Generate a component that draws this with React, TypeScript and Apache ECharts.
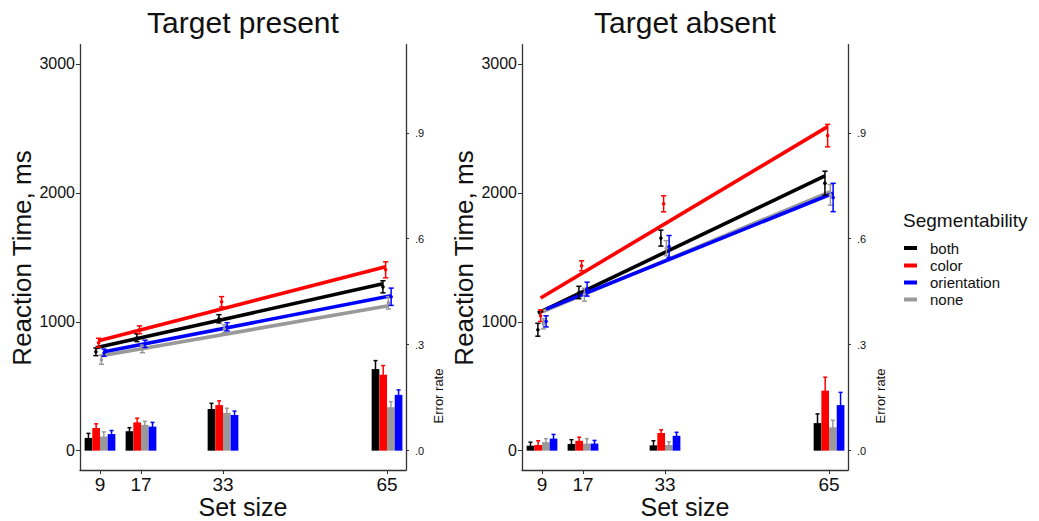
import { useEffect, useRef } from "react";
import * as echarts from "echarts";

// ---------- data ----------
const setSizes = [9, 17, 33, 65];
const conditionOrder = ["both", "color", "none", "orientation"]; // dodge / draw order
const legendOrder = ["both", "color", "orientation", "none"];
const conditionColors: Record<string, string> = {
  both: "#000000",
  color: "#FF0000",
  orientation: "#0000FF",
  none: "#999999",
};

const rtTicks = [0, 1000, 2000, 3000];
const rtTickLabels = ["0", "1000", "2000", "3000"];
const errTicks = [0, 0.3, 0.6, 0.9];
const errTickLabels = [".0", ".3", ".6", ".9"];

// Target present: mean RT (ms), SE, fitted line at 9 and 65
const presentRtBoth = [767, 876, 1023, 1271];
const presentRtColor = [837, 938, 1155, 1403];
const presentRtNone = [705, 790, 946, 1147];
const presentRtOrientation = [760, 829, 961, 1194];
const presentRtSeBoth = [30, 30, 32, 47];
const presentRtSeColor = [35, 30, 40, 62];
const presentRtSeNone = [35, 30, 30, 48];
const presentRtSeOrientation = [28, 28, 32, 67];
const presentFitBoth = [798, 1295];
const presentFitColor = [853, 1426];
const presentFitNone = [736, 1124];
const presentFitOrientation = [767, 1202];
// Target present: error rate and SE
const presentErrBoth = [0.036, 0.055, 0.118, 0.231];
const presentErrColor = [0.064, 0.08, 0.129, 0.215];
const presentErrNone = [0.04, 0.073, 0.107, 0.123];
const presentErrOrientation = [0.047, 0.068, 0.101, 0.158];
const presentErrSeBoth = [0.013, 0.01, 0.016, 0.024];
const presentErrSeColor = [0.012, 0.012, 0.012, 0.026];
const presentErrSeNone = [0.013, 0.01, 0.013, 0.016];
const presentErrSeOrientation = [0.01, 0.012, 0.011, 0.014];

// Target absent
const absentRtBoth = [938, 1227, 1649, 2075];
const absentRtColor = [1047, 1434, 1915, 2444];
const absentRtNone = [984, 1210, 1571, 1984];
const absentRtOrientation = [1003, 1253, 1584, 1964];
const absentRtSeBoth = [50, 48, 62, 93];
const absentRtSeColor = [45, 39, 62, 87];
const absentRtSeNone = [40, 50, 58, 80];
const absentRtSeOrientation = [43, 54, 85, 110];
const absentFitBoth = [1067, 2132];
const absentFitColor = [1184, 2514];
const absentFitNone = [1080, 2010];
const absentFitOrientation = [1098, 1997];
const absentErrBoth = [0.014, 0.019, 0.015, 0.078];
const absentErrColor = [0.016, 0.028, 0.05, 0.17];
const absentErrNone = [0.024, 0.02, 0.016, 0.066];
const absentErrOrientation = [0.034, 0.02, 0.042, 0.129];
const absentErrSeBoth = [0.01, 0.012, 0.013, 0.026];
const absentErrSeColor = [0.012, 0.01, 0.009, 0.038];
const absentErrSeNone = [0.01, 0.014, 0.009, 0.02];
const absentErrSeOrientation = [0.012, 0.009, 0.01, 0.036];

type Panel = {
  title: string;
  rt: Record<string, number[]>;
  rtSe: Record<string, number[]>;
  fit: Record<string, number[]>;
  err: Record<string, number[]>;
  errSe: Record<string, number[]>;
};

const panels: Panel[] = [
  {
    title: "Target present",
    rt: { both: presentRtBoth, color: presentRtColor, none: presentRtNone, orientation: presentRtOrientation },
    rtSe: { both: presentRtSeBoth, color: presentRtSeColor, none: presentRtSeNone, orientation: presentRtSeOrientation },
    fit: { both: presentFitBoth, color: presentFitColor, none: presentFitNone, orientation: presentFitOrientation },
    err: { both: presentErrBoth, color: presentErrColor, none: presentErrNone, orientation: presentErrOrientation },
    errSe: { both: presentErrSeBoth, color: presentErrSeColor, none: presentErrSeNone, orientation: presentErrSeOrientation },
  },
  {
    title: "Target absent",
    rt: { both: absentRtBoth, color: absentRtColor, none: absentRtNone, orientation: absentRtOrientation },
    rtSe: { both: absentRtSeBoth, color: absentRtSeColor, none: absentRtSeNone, orientation: absentRtSeOrientation },
    fit: { both: absentFitBoth, color: absentFitColor, none: absentFitNone, orientation: absentFitOrientation },
    err: { both: absentErrBoth, color: absentErrColor, none: absentErrNone, orientation: absentErrOrientation },
    errSe: { both: absentErrSeBoth, color: absentErrSeColor, none: absentErrSeNone, orientation: absentErrSeOrientation },
  },
];

// ---------- layout ----------
const FONT = "'Liberation Sans', Arial, sans-serif";
const gridLefts = [80, 522];
const GRID_W = 326;
const GRID_TOP = 44.6;
const GRID_H = 425.4;
const X_MIN = 5.1;
const X_MAX = 68.7;
const RT_MIN = -150;
const RT_MAX = 3150;
const ERR_SCALE = 2740;
const BAR_W = 1.5;
const barDodge = [-2.25, -0.75, 0.75, 2.25];
const pointDodge = [-0.8, -0.27, 0.27, 0.8];
const AXIS_COLOR = "#333333";
const TEXT_COLOR = "#111111";

function labelFor(ticks: number[], labels: string[]) {
  return (v: number) => {
    const k = ticks.findIndex((t) => Math.abs(t - v) < 1e-6);
    return k >= 0 ? labels[k] : "";
  };
}

function buildOption() {
  const grid: any[] = [];
  const xAxis: any[] = [];
  const yAxis: any[] = [];
  const series: any[] = [];
  const graphic: any[] = [];

  panels.forEach((p, i) => {
    grid.push({ left: gridLefts[i], top: GRID_TOP, width: GRID_W, height: GRID_H, containLabel: false });
    xAxis.push({
      type: "value",
      gridIndex: i,
      min: X_MIN,
      max: X_MAX,
      splitLine: { show: false },
      axisLine: { show: true, onZero: false, lineStyle: { color: AXIS_COLOR, width: 1.3 } },
      axisTick: { show: true, length: 4, customValues: setSizes, lineStyle: { color: AXIS_COLOR } },
      axisLabel: {
        customValues: setSizes,
        fontSize: 19,
        color: TEXT_COLOR,
        margin: 5,
        fontFamily: FONT,
        formatter: (v: number) => String(v),
      },
    });
    yAxis.push({
      type: "value",
      gridIndex: i,
      position: "left",
      min: RT_MIN,
      max: RT_MAX,
      splitLine: { show: false },
      axisLine: { show: true, onZero: false, lineStyle: { color: AXIS_COLOR, width: 1.3 } },
      axisTick: { show: true, length: 4, customValues: rtTicks, lineStyle: { color: AXIS_COLOR } },
      axisLabel: {
        customValues: rtTicks,
        fontSize: 16,
        color: TEXT_COLOR,
        margin: 5,
        fontFamily: FONT,
        formatter: labelFor(rtTicks, rtTickLabels),
      },
    });
    yAxis.push({
      type: "value",
      gridIndex: i,
      position: "right",
      min: RT_MIN / ERR_SCALE,
      max: RT_MAX / ERR_SCALE,
      splitLine: { show: false },
      axisLine: { show: true, onZero: false, lineStyle: { color: AXIS_COLOR, width: 1.3 } },
      axisTick: { show: true, length: 3, customValues: errTicks, lineStyle: { color: AXIS_COLOR } },
      axisLabel: {
        customValues: errTicks,
        fontSize: 11,
        color: TEXT_COLOR,
        margin: 9,
        fontFamily: FONT,
        formatter: labelFor(errTicks, errTickLabels),
      },
    });

    conditionOrder.forEach((c, ci) => {
      const color = conditionColors[c];
      // error-rate bars
      series.push({
        type: "custom",
        name: c,
        xAxisIndex: i,
        yAxisIndex: 2 * i + 1,
        z: 1,
        clip: false,
        encode: { x: 0, y: 1 },
        data: setSizes.map((s, si) => [s + barDodge[ci], p.err[c][si], p.errSe[c][si]]),
        renderItem: (_params: any, api: any) => {
          const x = api.value(0);
          const v = api.value(1);
          const se = api.value(2);
          const tl = api.coord([x - BAR_W / 2, v]);
          const br = api.coord([x + BAR_W / 2, 0]);
          const top = api.coord([x, v + se]);
          const bot = api.coord([x, Math.max(0, v - se)]);
          return {
            type: "group",
            children: [
              { type: "rect", shape: { x: tl[0], y: tl[1], width: br[0] - tl[0], height: br[1] - tl[1] }, style: { fill: color } },
              { type: "line", shape: { x1: top[0], y1: top[1], x2: bot[0], y2: bot[1] }, style: { stroke: color, lineWidth: 1.5 } },
              { type: "line", shape: { x1: top[0] - 2, y1: top[1], x2: top[0] + 2, y2: top[1] }, style: { stroke: color, lineWidth: 1.5 } },
            ],
          };
        },
      });
      // fitted line
      series.push({
        type: "line",
        name: c,
        xAxisIndex: i,
        yAxisIndex: 2 * i,
        z: 3,
        showSymbol: false,
        symbol: "none",
        lineStyle: { color, width: 3.6 },
        data: [
          [setSizes[0] + pointDodge[ci], p.fit[c][0]],
          [setSizes[setSizes.length - 1] + pointDodge[ci], p.fit[c][1]],
        ],
      });
    });
    conditionOrder.forEach((c, ci) => {
      const color = conditionColors[c];
      // mean RT points with error bars
      series.push({
        type: "custom",
        name: c,
        xAxisIndex: i,
        yAxisIndex: 2 * i,
        z: 4,
        clip: false,
        encode: { x: 0, y: 1 },
        data: setSizes.map((s, si) => [s + pointDodge[ci], p.rt[c][si], p.rtSe[c][si]]),
        renderItem: (_params: any, api: any) => {
          const x = api.value(0);
          const v = api.value(1);
          const se = api.value(2);
          const mid = api.coord([x, v]);
          const top = api.coord([x, v + se]);
          const bot = api.coord([x, v - se]);
          const cap = 2.6;
          const st = { stroke: color, lineWidth: 1.5 };
          return {
            type: "group",
            children: [
              { type: "line", shape: { x1: top[0], y1: top[1], x2: bot[0], y2: bot[1] }, style: st },
              { type: "line", shape: { x1: top[0] - cap, y1: top[1], x2: top[0] + cap, y2: top[1] }, style: st },
              { type: "line", shape: { x1: bot[0] - cap, y1: bot[1], x2: bot[0] + cap, y2: bot[1] }, style: st },
              { type: "circle", shape: { cx: mid[0], cy: mid[1], r: 1.8 }, style: { fill: color } },
            ],
          };
        },
      });
    });

    const cx = gridLefts[i] + 163;
    graphic.push({
      type: "text",
      x: cx,
      y: 22,
      style: { text: p.title, fontSize: 30, fontFamily: FONT, fill: TEXT_COLOR, textAlign: "center", textVerticalAlign: "middle" },
    });
    graphic.push({
      type: "text",
      x: cx,
      y: 507,
      style: { text: "Set size", fontSize: 25, fontFamily: FONT, fill: TEXT_COLOR, textAlign: "center", textVerticalAlign: "middle" },
    });
    graphic.push({
      type: "text",
      x: i === 0 ? 22 : 464,
      y: 258,
      rotation: Math.PI / 2,
      style: { text: "Reaction Time, ms", fontSize: 26, fontFamily: FONT, fill: TEXT_COLOR, textAlign: "center", textVerticalAlign: "middle" },
    });
    graphic.push({
      type: "text",
      x: i === 0 ? 438 : 880,
      y: 396,
      rotation: Math.PI / 2,
      style: { text: "Error rate", fontSize: 13, fontFamily: FONT, fill: TEXT_COLOR, textAlign: "center", textVerticalAlign: "middle" },
    });
  });

  // legend
  graphic.push({
    type: "text",
    x: 903,
    y: 220,
    style: { text: "Segmentability", fontSize: 19, fontFamily: FONT, fill: TEXT_COLOR, textAlign: "left", textVerticalAlign: "middle" },
  });
  const legendY = [248, 265.5, 282.5, 299.5];
  legendOrder.forEach((c, k) => {
    graphic.push({
      type: "line",
      shape: { x1: 904, y1: legendY[k], x2: 917, y2: legendY[k] },
      style: { stroke: conditionColors[c], lineWidth: 4 },
    });
    graphic.push({
      type: "text",
      x: 930,
      y: legendY[k],
      style: { text: c, fontSize: 15, fontFamily: FONT, fill: TEXT_COLOR, textAlign: "left", textVerticalAlign: "middle" },
    });
  });

  return {
    animation: false,
    backgroundColor: "#ffffff",
    textStyle: { fontFamily: FONT },
    grid,
    xAxis,
    yAxis,
    series,
    graphic,
  };
}

export default function App() {
  const ref = useRef<HTMLDivElement>(null);
  useEffect(() => {
    if (!ref.current) return;
    const chart = echarts.init(ref.current, undefined, { renderer: "svg" });
    chart.setOption(buildOption() as any);
    return () => chart.dispose();
  }, []);
  return (
    <div
      ref={ref}
      style={{ position: "fixed", left: 0, top: 0, width: 1039, height: 521, background: "#fff" }}
    />
  );
}
